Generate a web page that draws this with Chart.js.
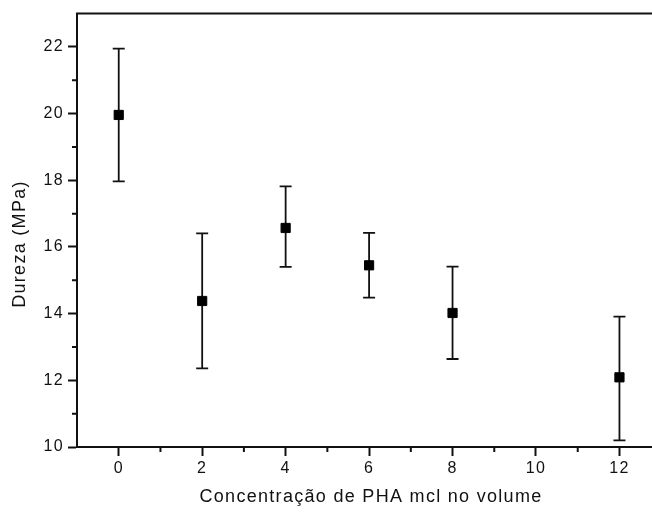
<!DOCTYPE html>
<html>
<head>
<meta charset="utf-8">
<script src="https://cdn.jsdelivr.net/npm/chart.js@4/dist/chart.umd.min.js"></script>
<style>
  body { margin: 0; background: #fff; }
  #durezaChart { display: block; }
</style>
</head>
<body>
<canvas id="durezaChart" width="652" height="513"></canvas>
<script>
// Concentração de PHA mcl (eixo x) e dureza média com limites das barras de erro
const concentracao = [0, 2, 4, 6, 8, 12];
const durezaMedia = [19.96, 14.38, 16.57, 15.45, 14.02, 12.09];
const erroSuperior = [21.95, 16.41, 17.82, 16.42, 15.41, 13.91];
const erroInferior = [17.97, 12.36, 15.40, 14.48, 12.64, 10.20];

// Marcas dos eixos
const xTicks = [0, 2, 4, 6, 8, 10, 12];
const yTicks = [10, 12, 14, 16, 18, 20, 22];
const xMinor = [1, 3, 5, 7, 9, 11];
const yMinor = [11, 13, 15, 17, 19, 21];

const fonte = "'Liberation Sans', Arial, sans-serif";

// Plugin: barras de erro, linha superior, marcas menores e títulos dos eixos
const barrasErro = {
    id: 'barrasErro',
    beforeDraw(chart) {
        chart.ctx.letterSpacing = '1.3px';
    },
    beforeDatasetsDraw(chart) {
        const ctx = chart.ctx;
        const x = chart.scales.x, y = chart.scales.y;
        ctx.save();
        ctx.strokeStyle = '#111';
        ctx.lineWidth = 1.8;
        concentracao.forEach((c, i) => {
            const px = x.getPixelForValue(c);
            const top = y.getPixelForValue(erroSuperior[i]);
            const bot = y.getPixelForValue(erroInferior[i]);
            ctx.beginPath();
            ctx.moveTo(px, top); ctx.lineTo(px, bot);
            ctx.moveTo(px - 6, top); ctx.lineTo(px + 6, top);
            ctx.moveTo(px - 6, bot); ctx.lineTo(px + 6, bot);
            ctx.stroke();
        });
        ctx.restore();
    },
    afterDraw(chart) {
        const ctx = chart.ctx;
        const area = chart.chartArea;
        const x = chart.scales.x, y = chart.scales.y;
        ctx.save();
        ctx.strokeStyle = '#111';
        ctx.lineWidth = 2;
        // linha superior do quadro
        ctx.beginPath();
        ctx.moveTo(area.left - 1, area.top);
        ctx.lineTo(area.right, area.top);
        ctx.stroke();
        // marcas menores
        ctx.beginPath();
        xMinor.forEach(v => {
            const px = x.getPixelForValue(v);
            ctx.moveTo(px, area.bottom);
            ctx.lineTo(px, area.bottom + 5);
        });
        yMinor.forEach(v => {
            const py = y.getPixelForValue(v);
            ctx.moveTo(area.left, py);
            ctx.lineTo(area.left - 5, py);
        });
        ctx.stroke();
        // títulos dos eixos
        ctx.fillStyle = '#111';
        ctx.font = '18px ' + fonte;
        ctx.textAlign = 'center';
        ctx.textBaseline = 'middle';
        ctx.fillText('Concentração de PHA mcl no volume', 371, 497);
        ctx.translate(20, 244);
        ctx.rotate(-Math.PI / 2);
        ctx.fillText('Dureza (MPa)', 0, 0);
        ctx.restore();
    }
};

const durezaCtx = document.getElementById('durezaChart').getContext('2d');

const durezaChart = new Chart(durezaCtx, {
    type: 'scatter',
    data: {
        datasets: [{
            label: 'Dureza',
            data: concentracao.map((c, i) => ({ x: c, y: durezaMedia[i] })),
            pointStyle: 'rect',
            pointRadius: 6.5,
            pointHoverRadius: 6.5,
            backgroundColor: '#000',
            borderColor: '#000',
            borderWidth: 1
        }]
    },
    options: {
        responsive: false,
        animation: false,
        layout: {
            autoPadding: false,
            padding: { top: 13, right: 0, bottom: 0, left: 0 }
        },
        plugins: {
            legend: { display: false },
            tooltip: { enabled: false }
        },
        scales: {
            x: {
                type: 'linear',
                min: -1,
                max: 12.78,
                afterBuildTicks: scale => { scale.ticks = xTicks.map(v => ({ value: v })); },
                afterFit: scale => { scale.height = 66; },
                ticks: {
                    autoSkip: false,
                    maxRotation: 0,
                    padding: 3,
                    color: '#111',
                    font: { family: fonte, size: 16 }
                },
                grid: {
                    drawOnChartArea: false,
                    tickLength: 9,
                    tickWidth: 2,
                    tickColor: '#111'
                },
                border: { color: '#111', width: 2 }
            },
            y: {
                min: 10,
                max: 23,
                afterBuildTicks: scale => { scale.ticks = yTicks.map(v => ({ value: v })); },
                afterFit: scale => { scale.width = 77; },
                ticks: {
                    autoSkip: false,
                    padding: 4,
                    color: '#111',
                    font: { family: fonte, size: 16 }
                },
                grid: {
                    drawOnChartArea: false,
                    tickLength: 9,
                    tickWidth: 2,
                    tickColor: '#111'
                },
                border: { color: '#111', width: 2 }
            }
        }
    },
    plugins: [barrasErro]
});
</script>
</body>
</html>
